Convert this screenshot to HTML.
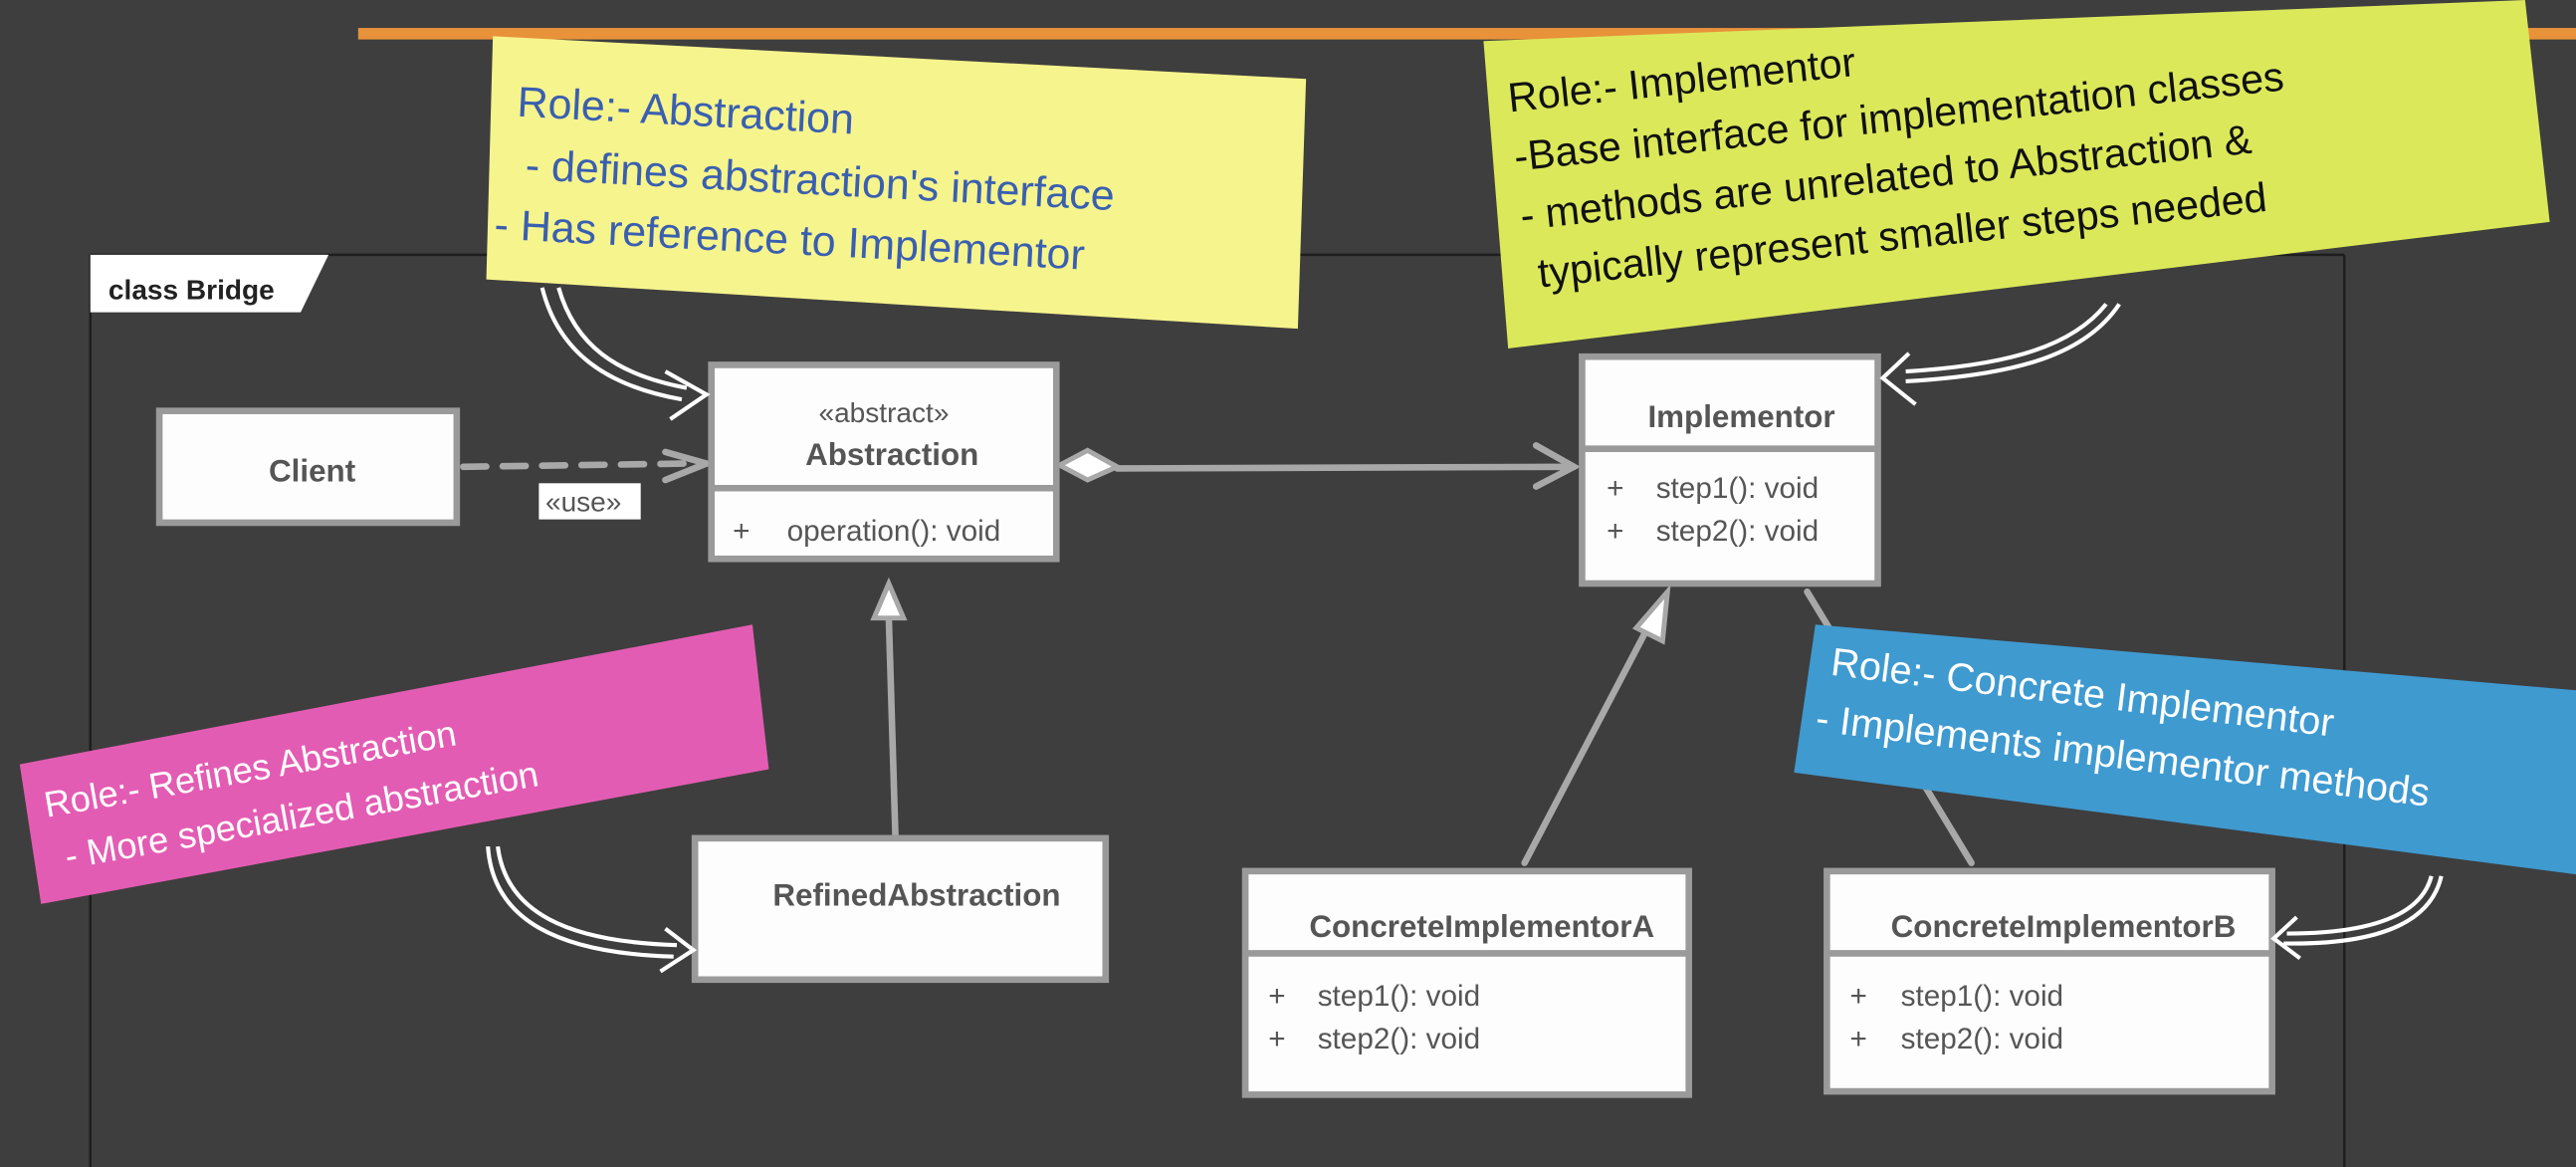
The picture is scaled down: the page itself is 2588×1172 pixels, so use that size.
<!DOCTYPE html>
<html><head><style>
html,body{margin:0;padding:0;background:#3e3e3e;}
svg{display:block}
.h{font-family:"Liberation Sans",sans-serif;}
.c{font-family:"Liberation Sans",sans-serif;fill:#555;}
</style></head><body>
<svg width="2588" height="1172" viewBox="0 0 1568 710" preserveAspectRatio="none" xmlns="http://www.w3.org/2000/svg">
<rect width="1568" height="710" fill="#3e3e3e"/>
<rect x="218" y="17" width="1350" height="7" fill="#e8923a"/>
<!-- frame -->
<line x1="55" y1="155" x2="55" y2="710" stroke="#1e1e1e" stroke-width="1.5"/>
<line x1="55" y1="155" x2="1427" y2="155" stroke="#1e1e1e" stroke-width="1.5"/>
<line x1="1427" y1="155" x2="1427" y2="710" stroke="#1e1e1e" stroke-width="1.5"/>
<polygon points="55,155 200,155 183,190 55,190" fill="#fff"/>
<text x="66" y="182" class="h" font-size="17" font-weight="bold" fill="#222">class Bridge</text>

<!-- connectors -->
<g stroke="#a8a8a8" stroke-width="4" fill="none" stroke-linecap="round">
<path d="M282,284 L420,282" stroke-dasharray="14,10"/>
<path d="M405,275 L430,282 L405,292"/>
<path d="M680,285 L958,284"/>
<path d="M935,271 L958,284 L935,296"/>
<path d="M545,508 L541,376"/>
<path d="M928,525 L1005,378"/>
<path d="M1200,525 L1100,360"/>
</g>
<polygon points="645,283 662,274 680,284 662,292" fill="#fff" stroke="#a8a8a8" stroke-width="3"/>
<polygon points="541,355 532,376 550,376" fill="#fff" stroke="#a8a8a8" stroke-width="3"/>
<polygon points="1015,360 996,382 1012,390" fill="#fff" stroke="#a8a8a8" stroke-width="3"/>
<rect x="328" y="294" width="62" height="22" fill="#fff"/>
<text x="332" y="311" class="c" font-size="17">«use»</text>

<!-- classes -->
<g stroke="#9a9a9a" stroke-width="4" fill="#fdfdfd">
<rect x="97" y="250" width="181" height="68"/>
<rect x="433" y="222" width="210" height="118"/>
<rect x="963" y="217" width="180" height="138"/>
<rect x="423" y="510" width="250" height="86"/>
<rect x="758" y="530" width="270" height="136"/>
<rect x="1112" y="530" width="271" height="134"/>
</g>
<g stroke="#9a9a9a" stroke-width="4">
<line x1="433" y1="297" x2="643" y2="297"/>
<line x1="963" y1="273" x2="1143" y2="273"/>
<line x1="758" y1="580" x2="1028" y2="580"/>
<line x1="1112" y1="580" x2="1383" y2="580"/>
</g>
<text x="190" y="293" class="c" font-size="19" font-weight="bold" text-anchor="middle" fill="#444">Client</text>
<text x="538" y="257" class="c" font-size="17" text-anchor="middle">«abstract»</text>
<text x="543" y="283" class="c" font-size="19" font-weight="bold" text-anchor="middle" fill="#444">Abstraction</text>
<text x="446" y="329" class="c" font-size="18">+</text><text x="479" y="329" class="c" font-size="18">operation(): void</text>
<text x="1060" y="260" class="c" font-size="19" font-weight="bold" text-anchor="middle" fill="#444">Implementor</text>
<text x="978" y="303" class="c" font-size="18">+</text><text x="1008" y="303" class="c" font-size="18">step1(): void</text>
<text x="978" y="329" class="c" font-size="18">+</text><text x="1008" y="329" class="c" font-size="18">step2(): void</text>
<text x="558" y="551" class="c" font-size="19" font-weight="bold" text-anchor="middle" fill="#444">RefinedAbstraction</text>
<text x="902" y="570" class="c" font-size="19" font-weight="bold" text-anchor="middle" fill="#444">ConcreteImplementorA</text>
<text x="772" y="612" class="c" font-size="18">+</text><text x="802" y="612" class="c" font-size="18">step1(): void</text>
<text x="772" y="638" class="c" font-size="18">+</text><text x="802" y="638" class="c" font-size="18">step2(): void</text>
<text x="1256" y="570" class="c" font-size="19" font-weight="bold" text-anchor="middle" fill="#444">ConcreteImplementorB</text>
<text x="1126" y="612" class="c" font-size="18">+</text><text x="1157" y="612" class="c" font-size="18">step1(): void</text>
<text x="1126" y="638" class="c" font-size="18">+</text><text x="1157" y="638" class="c" font-size="18">step2(): void</text>

<!-- notes -->
<polygon points="300,22 795,48 790,200 296,170" fill="#f6f48c"/>
<g transform="rotate(3 300 60)" class="h" fill="#3a5fb0" font-size="26">
<text x="315" y="70">Role:- Abstraction</text>
<text x="322" y="108"> - defines abstraction's interface</text>
<text x="305" y="145">- Has reference to Implementor</text>
</g>
<polygon points="903,25 1537,0 1552,135 918,212" fill="#dbe85a"/>
<g transform="rotate(-6 920 60)" class="h" fill="#111" font-size="25">
<text x="918" y="68">Role:- Implementor</text>
<text x="918" y="104">-Base interface for implementation classes</text>
<text x="918" y="140">- methods are unrelated to Abstraction &amp;</text>
<text x="925" y="176">typically represent smaller steps needed</text>
</g>
<polygon points="12,465 458,380 468,468 25,550" fill="#e35cb3"/>
<g transform="rotate(-10 30 495)" class="h" fill="#fff" font-size="22">
<text x="28" y="497">Role:- Refines Abstraction</text>
<text x="35" y="530">- More specialized abstraction</text>
</g>
<polygon points="1105,380 1568,420 1568,532 1092,470" fill="#3f9ad0"/>
<g transform="rotate(7 1110 400)" class="h" fill="#fff" font-size="24">
<text x="1115" y="410">Role:- Concrete Implementor</text>
<text x="1110" y="445">- Implements implementor methods</text>
</g>

<!-- hand arrows -->
<g stroke="#fff" stroke-width="2.5" fill="none">
<path d="M330,175 C340,215 370,235 415,243"/>
<path d="M340,175 C350,210 375,228 418,236"/>
<path d="M405,226 L430,240 L408,255"/>
<path d="M297,515 C300,560 340,580 410,582"/>
<path d="M303,515 C308,555 345,573 412,575"/>
<path d="M405,565 L422,578 L402,591"/>
<path d="M1290,185 C1270,215 1230,228 1160,232"/>
<path d="M1282,185 C1262,210 1225,222 1160,226"/>
<path d="M1162,215 L1146,230 L1166,246"/>
<path d="M1486,533 C1480,560 1450,575 1390,574"/>
<path d="M1480,533 C1474,556 1445,568 1392,568"/>
<path d="M1398,558 L1384,571 L1400,583"/>
</g>
</svg>
</body></html>
